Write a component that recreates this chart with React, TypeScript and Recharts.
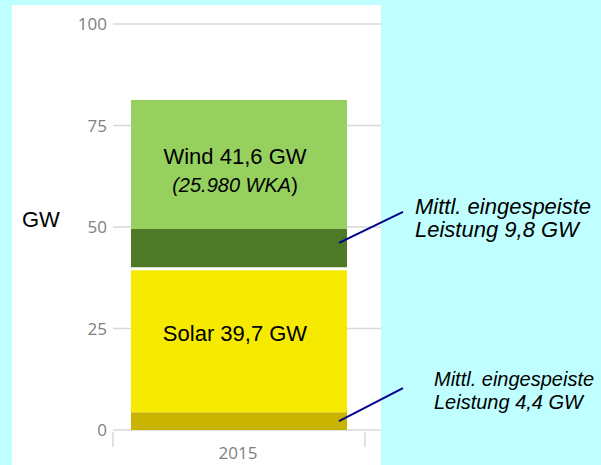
import React from "react";
import { BarChart, Bar, XAxis, YAxis, CartesianGrid, LabelList } from "recharts";

const categories = ["2015"];
const solarFeedIn = [4.4];
const solarCapacity = [39.7];
const windFeedIn = [9.8];
const windCapacity = [41.6];
const windTurbines = ["25.980"];
const yTicks = [0, 25, 50, 75, 100];

const data = categories.map((year, i) => ({
  year,
  solarFeed: solarFeedIn[i],
  solarRest: +(solarCapacity[i] - solarFeedIn[i]).toFixed(1),
  windFeed: windFeedIn[i],
  windRest: +(windCapacity[i] - windFeedIn[i]).toFixed(1),
}));

const de = (v: number) => v.toFixed(1).replace(".", ",");

const ARIAL = "'Liberation Sans', Arial, sans-serif";
const AXIS_FONT = "'Open Sans', sans-serif";
const NAVY = "#00008b";

const WindLabel = (props: any) => {
  const { x, y, width, index } = props;
  const cx = x + width / 2 - 4;
  return (
    <g>
      <text x={cx} y={y + 64} textAnchor="middle" fontFamily={ARIAL} fontSize={22} fill="#000">
        {`Wind ${de(windCapacity[index])} GW`}
      </text>
      <text x={cx} y={y + 92} textAnchor="middle" fontFamily={ARIAL} fontSize={20} fill="#000">
        <tspan fontStyle="italic">{`(${windTurbines[index]} WKA`}</tspan>)
      </text>
    </g>
  );
};

const SolarLabel = (props: any) => {
  const { x, y, width, index } = props;
  return (
    <text x={x + width / 2 - 4} y={y + 72} textAnchor="middle" fontFamily={ARIAL} fontSize={22} fill="#000">
      {`Solar ${de(solarCapacity[index])} GW`}
    </text>
  );
};

// callout for the average fed-in power of a segment
const makeCallout = (values: number[], textDx: number, lineRise: number, size: number, lift: number) =>
  (props: any) => {
    const { x, y, width, height, index } = props;
    const cy = y + height / 2;
    const right = x + width;
    return (
      <g>
        <line x1={right - 8} y1={cy - lift} x2={right + 56} y2={cy - lift - lineRise} stroke={NAVY} strokeWidth={2} />
        <text x={right + textDx} y={cy - 35} fontFamily={ARIAL} fontSize={size} fontStyle="italic" fill="#000">
          Mittl. eingespeiste
        </text>
        <text x={right + textDx} y={cy - 12} fontFamily={ARIAL} fontSize={size} fontStyle="italic" fill="#000">
          {`Leistung ${de(values[index])} GW`}
        </text>
      </g>
    );
  };

const WindFeedShape = (props: any) => {
  const { x, y, width, height, fill } = props;
  return (
    <g>
      <rect x={x} y={y} width={width} height={height} fill={fill} />
      <line x1={x} y1={y + height} x2={x + width} y2={y + height} stroke="#fff" strokeWidth={3} />
    </g>
  );
};

const YearTick = (props: any) => {
  const { x, y, payload } = props;
  return (
    <g>
      <line x1={x - 126} y1={y} x2={x - 126} y2={y + 15} stroke="#d8d8d8" strokeWidth={1.5} />
      <line x1={x + 126} y1={y} x2={x + 126} y2={y + 15} stroke="#d8d8d8" strokeWidth={1.5} />
      <text x={x - 1} y={y + 27} textAnchor="middle" fontFamily={AXIS_FONT} fontSize={17} fill="#808080">
        {payload.value}
      </text>
    </g>
  );
};

const GwLabel = (props: any) => {
  const { viewBox } = props;
  return (
    <text x={22} y={viewBox.y + viewBox.height / 2} fontFamily={ARIAL} fontSize={22} fill="#000">
      GW
    </text>
  );
};

export default function App() {
  return (
    <div style={{ position: "absolute", left: 0, top: 0, width: 601, height: 465, background: "#c0ffff" }}>
      <div style={{ position: "absolute", left: 12, top: 5, width: 369, height: 460, background: "#fff" }} />
      <div style={{ position: "absolute", left: 0, top: 0 }}>
        <BarChart width={601} height={465} data={data} margin={{ top: 24, right: 220, bottom: 0, left: 0 }}>
          <CartesianGrid horizontal vertical={false} stroke="#d8d8d8" strokeWidth={1.5} />
          <XAxis
            dataKey="year"
            height={35}
            padding={{ left: 0, right: 16 }}
            axisLine={false}
            tickLine={false}
            tickSize={0}
            tick={<YearTick />}
          />
          <YAxis
            width={113}
            domain={[0, 100]}
            ticks={yTicks}
            axisLine={false}
            tickLine={false}
            tickSize={4}
            tickMargin={2}
            tick={{ fill: "#808080", fontSize: 17, fontFamily: AXIS_FONT }}
            label={<GwLabel />}
          />
          <Bar dataKey="solarFeed" stackId="a" fill="#c8b400" barSize={216} isAnimationActive={false}>
            <LabelList content={makeCallout(solarFeedIn, 87, 33, 20, 0)} />
          </Bar>
          <Bar dataKey="solarRest" stackId="a" fill="#f5ea00" barSize={216} isAnimationActive={false}>
            <LabelList content={SolarLabel} />
          </Bar>
          <Bar dataKey="windFeed" stackId="a" fill="#4e7a28" barSize={216} shape={WindFeedShape} isAnimationActive={false}>
            <LabelList content={makeCallout(windFeedIn, 68, 31, 22, 6)} />
          </Bar>
          <Bar dataKey="windRest" stackId="a" fill="#96d160" barSize={216} isAnimationActive={false}>
            <LabelList content={WindLabel} />
          </Bar>
        </BarChart>
      </div>
    </div>
  );
}
